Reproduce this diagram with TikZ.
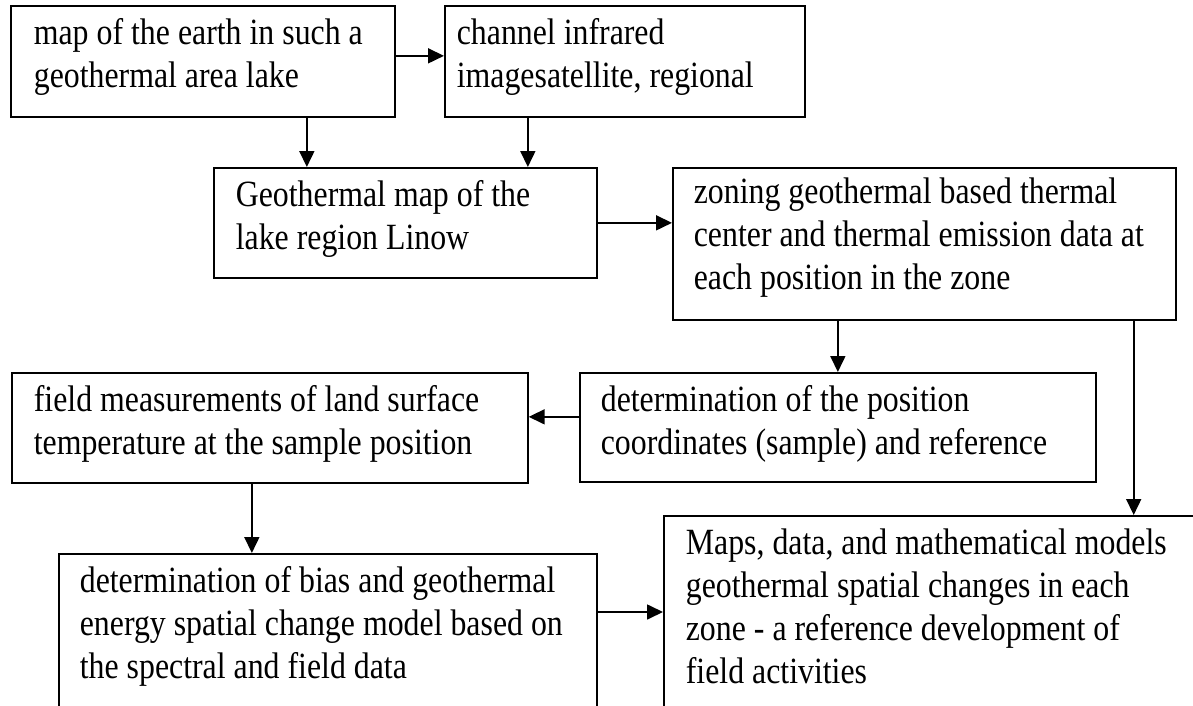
\documentclass[tikz,border=0pt]{standalone}
\usepackage{fontspec}
\setmainfont{Liberation Serif}[FakeStretch=0.86]
\usetikzlibrary{arrows.meta}

\begin{document}
\begin{tikzpicture}[x=1pt,y=-1pt]
    \def\lw{1.7pt}

    % --- DEFINE STYLES ---
    % Style for the text boxes (placed by their top left corner, text at the top)
    \tikzstyle{stepbox} = [draw, line width=\lw, anchor=north west, align=left, inner ysep=0pt, inner xsep=22pt, text height=39pt, font=\fontsize{37pt}{43pt}\selectfont, execute at begin node={\spaceskip=8pt\relax}]
    % Style for the connectors
    \tikzstyle{flow} = [line width=\lw, -{Triangle[length=16pt,width=15pt]}]

    % Page frame (the two bottom boxes run off the page)
    \useasboundingbox (0,0) rectangle (1193,706);
    \clip (0,0) rectangle (1193,706);

    % --- BOXES ---
    \node[stepbox, inner xsep=23pt, text width=338pt, text depth=72pt] (mapEarth) at (10,5)
        {map of the earth in such a\\geothermal area lake};
    \node[stepbox, inner xsep=12pt, text width=336pt, text depth=72pt] (satImg) at (444,5)
        {channel infrared\\imagesatellite, regional};
    \node[stepbox, text width=339pt, text depth=71pt] (geoMap) at (213,167)
        {Geothermal map of the\\lake region Linow};
    \node[stepbox, inner xsep=21pt, text height=36pt, text width=461pt, text depth=116pt] (zoning) at (672,167)
        {zoning geothermal based thermal\\center and thermal emission data at\\each position in the zone};
    \node[stepbox, inner xsep=21pt, text width=474pt, text depth=70pt] (position) at (579,372)
        {determination of the position\\coordinates (sample) and reference};
    \node[stepbox, text width=472pt, text depth=71pt] (fieldMeas) at (11,372)
        {field measurements of land surface\\temperature at the sample position};
    \node[stepbox, inner xsep=21pt, text width=496pt, text depth=168pt] (biasModel) at (58,553)
        {determination of bias and geothermal\\energy spatial change model based on\\the spectral and field data};
    \node[stepbox, text width=543pt, text depth=206pt] (results) at (663,515)
        {Maps, data, and mathematical models\\geothermal spatial changes in each\\zone - a reference development of\\field activities};

    % --- CONNECTORS ---
    \draw[flow] ([yshift=5.5pt]mapEarth.east) -- ([yshift=5.5pt]mapEarth.east -| satImg.west);
    \draw[flow] ([xshift=104pt]mapEarth.south) -- ([xshift=104pt]mapEarth.south |- geoMap.north);
    \draw[flow] ([xshift=-97pt]satImg.south) -- ([xshift=-97pt]satImg.south |- geoMap.north);
    \draw[flow] (geoMap.east) -- (geoMap.east -| zoning.west);
    \draw[flow] (zoning.south -| position.north) -- (position.north);
    \draw[flow] ([xshift=-43pt]zoning.south east) -- ([xshift=-43pt]zoning.south east |- results.north);
    \draw[flow] ([yshift=10.5pt]position.west) -- ([yshift=10.5pt]position.west -| fieldMeas.east);
    \draw[flow] ([xshift=-18pt]fieldMeas.south) -- ([xshift=-18pt]fieldMeas.south |- biasModel.north);
    \draw[flow] ([yshift=-59pt]biasModel.north east) -- ([yshift=-59pt]biasModel.north east -| results.west);
\end{tikzpicture}
\end{document}
